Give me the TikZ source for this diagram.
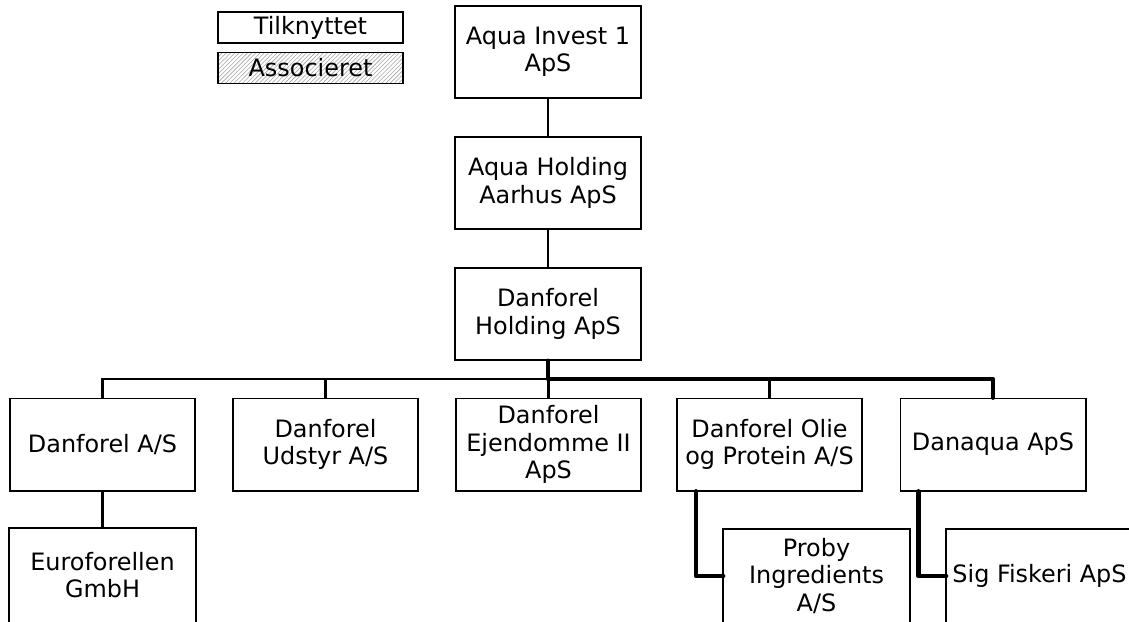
\documentclass[tikz,border=0pt]{standalone}
\usepackage{fontspec}
\setmainfont{DejaVu Sans}
\usepackage{tikz}
\usetikzlibrary{calc,patterns}

\begin{document}
\begin{tikzpicture}[
  x=0.025cm, y=-0.025cm,
  every node/.style={font=\fontsize{17}{19.4}\selectfont},
  firm/.style={draw, line width=1.4pt, fill=white, minimum width=4.625cm, minimum height=2.3cm, align=center, inner sep=0pt},
  cutfirm/.style={firm, draw=none},
  key/.style={draw, line width=1.4pt, minimum width=4.625cm, minimum height=0.775cm, inner sep=0pt},
  link/.style={line width=1.5pt},
  own/.style={line width=3.4pt, line cap=round, line join=round},
]
  \useasboundingbox (0,0) rectangle (1129,621);
  \clip (0,0) rectangle (1129,621);
  % legend
  \node[key] (tilk) at (310.5,27.5) {Tilknyttet};
  \node[key, pattern=north east lines, pattern color=black!35] (assoc) at (310.5,68) {};
  \node at (assoc) {Associeret};
  % top chain
  \node[firm] (invest)   at (548,52)  {Aqua Invest 1\\ApS};
  \node[firm] (aarhus)   at (548,183) {Aqua Holding\\Aarhus ApS};
  \node[firm] (dholding) at (548,314) {Danforel\\Holding ApS};
  \coordinate (bar) at (548,379);
  % second row
  \node[firm] (daf)     at (102.5,444.5) {Danforel A/S};
  \node[firm] (udstyr)  at (325.5,444.5) {Danforel\\Udstyr A/S};
  \node[firm] (ejend)   at (548.5,444.5) {Danforel\\Ejendomme II\\ApS};
  \node[firm] (olie)    at (769.5,444.5) {Danforel Olie\\og Protein A/S};
  \node[firm] (danaqua) at (993,444.5)   {Danaqua ApS};
  % third row, running off the page
  \node[cutfirm] (euro)  at (102.5,575)  {Euroforellen\\GmbH};
  \node[cutfirm] (proby) at (816.5,576)  {Proby\\Ingredients\\A/S};
  \node[cutfirm] (sig)   at (1039.5,576) {Sig Fiskeri ApS};
  \foreach \n in {euro,proby,sig}
    \draw[line width=1.4pt] ($(\n.south west)+(0,30)$) |- (\n.north east) -- ++(0,130);
  % thin links
  \draw[link] (invest) -- (aarhus);
  \draw[link] (aarhus) -- (dholding);
  \draw[link] (dholding) -- (bar);
  \foreach \n in {daf,udstyr,ejend,olie,danaqua}
    \draw[link] (bar) -| (\n.north);
  \draw[link] (daf) -- (euro);
  % thick links
  \draw[own] (dholding.south) |- (bar) -| (danaqua.north);
  \draw[own] ($(olie.south west)+(20,0)$) |- (proby.west);
  \draw[own] ($(danaqua.south west)+(19,0)$) |- (sig.west);
\end{tikzpicture}
\end{document}
